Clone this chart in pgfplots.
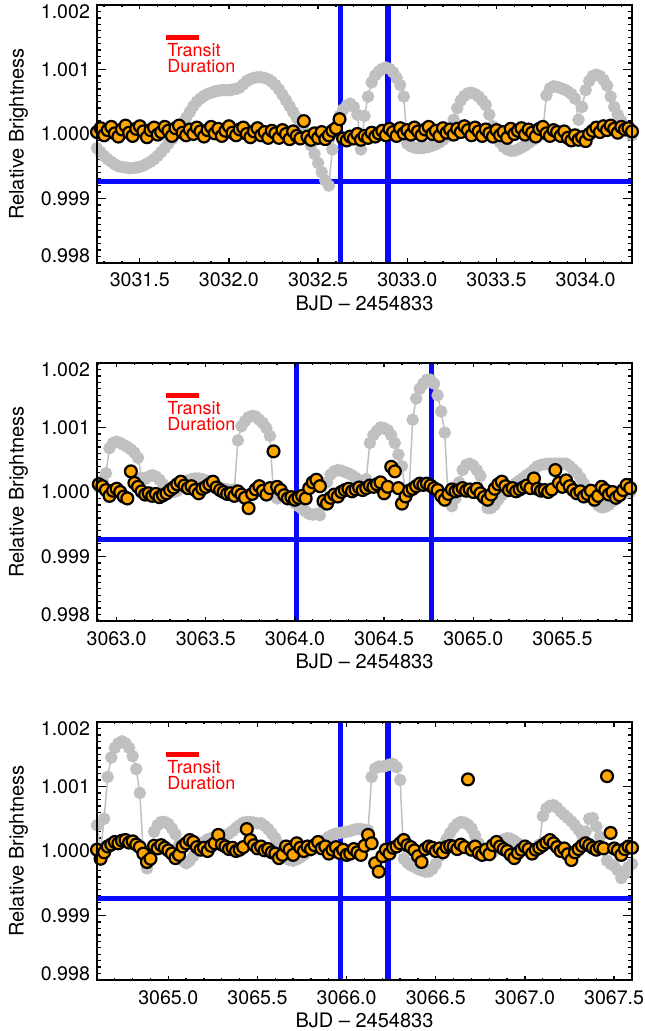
\documentclass[border=0pt]{standalone}
\usepackage{pgfplots}
\pgfplotsset{compat=1.18}
\usepackage{pgfplotstable}
\usepackage{fontspec}
\setmainfont{TeX Gyre Heros}
\definecolor{ptgray}{RGB}{192,192,192}
\definecolor{ptorange}{RGB}{255,165,0}
\definecolor{ptblue}{RGB}{10,10,250}
\definecolor{ptred}{RGB}{255,0,0}

\pgfplotstableread{
x g o
3031.26 0.99978 1.00003
3031.28 0.99972 1.00009
3031.30 0.99966 0.99998
3031.32 0.99961 1.00006
3031.34 0.99957 1.00011
3031.36 0.99953 1.00001
3031.38 0.99950 0.99996
3031.40 0.99949 1.00007
3031.42 0.99948 1.00013
3031.44 0.99947 1.00002
3031.46 0.99947 0.99997
3031.48 0.99948 1.00008
3031.50 0.99949 1.00012
3031.52 0.99951 1.00004
3031.54 0.99954 0.99995
3031.56 0.99957 1.00006
3031.58 0.99961 1.00010
3031.60 0.99966 0.99999
3031.62 0.99972 1.00003
3031.64 0.99978 1.00011
3031.66 0.99985 1.00005
3031.68 0.99992 0.99997
3031.70 0.99999 1.00009
3031.72 1.00007 1.00013
3031.74 1.00016 1.00002
3031.76 1.00025 0.99998
3031.78 1.00034 1.00007
3031.80 1.00043 1.00000
3031.82 1.00050 1.00010
3031.84 1.00055 1.00004
3031.86 1.00059 0.99996
3031.88 1.00062 1.00006
3031.90 1.00064 1.00011
3031.92 1.00066 1.00001
3031.94 1.00067 1.00008
3031.96 1.00068 0.99997
3031.98 1.00068 1.00005
3032.00 1.00068 1.00012
3032.02 1.00069 1.00002
3032.04 1.00070 0.99998
3032.06 1.00072 1.00007
3032.08 1.00077 1.00010
3032.10 1.00082 1.00000
3032.12 1.00085 0.99995
3032.14 1.00087 1.00004
3032.16 1.00088 1.00009
3032.18 1.00088 0.99998
3032.20 1.00087 1.00003
3032.22 1.00085 0.99994
3032.24 1.00081 1.00005
3032.26 1.00076 1.00001
3032.28 1.00069 0.99994
3032.30 1.00061 1.00006
3032.32 1.00052 1.00000
3032.34 1.00043 0.99992
3032.36 1.00034 1.00004
3032.38 1.00025 0.99997
3032.40 1.00015 0.99993
3032.42 1.00005 1.00020
3032.44 0.99994 0.99996
3032.46 0.99982 0.99991
3032.48 0.99969 1.00001
3032.50 0.99955 0.99994
3032.52 0.99941 1.00003
3032.54 0.99928 0.99992
3032.56 0.99920 0.99998
3032.58 0.99976 1.00005
3032.60 1.00008 1.00009
3032.62 1.00028 1.00023
3032.64 1.00038 0.99993
3032.66 1.00044 0.99990
3032.68 1.00047 0.99996
3032.70 1.00042 0.99993
3032.72 1.00030 1.00000
3032.74 0.99976 0.99991
3032.76 1.00028 0.99997
3032.78 1.00058 0.99994
3032.80 1.00080 1.00002
3032.82 1.00091 0.99996
3032.84 1.00097 1.00001
3032.86 1.00101 1.00005
3032.88 1.00103 0.99998
3032.90 1.00101 1.00008
3032.92 1.00096 1.00003
3032.94 1.00087 0.99997
3032.96 1.00076 1.00009
3032.98 1.00058 1.00001
3033.00 0.99985 1.00006
3033.02 0.99981 0.99999
3033.04 0.99979 1.00010
3033.06 0.99978 1.00004
3033.08 0.99978 0.99998
3033.10 0.99979 1.00007
3033.12 0.99980 1.00011
3033.14 0.99982 1.00000
3033.16 0.99984 1.00005
3033.18 0.99987 0.99997
3033.20 0.99991 1.00009
3033.22 0.99996 1.00002
3033.24 1.00004 1.00007
3033.26 1.00022 0.99999
3033.28 1.00040 1.00008
3033.30 1.00052 1.00003
3033.32 1.00059 1.00012
3033.34 1.00063 1.00006
3033.36 1.00064 0.99998
3033.38 1.00062 1.00010
3033.40 1.00058 1.00004
3033.42 1.00052 0.99997
3033.44 1.00045 1.00007
3033.46 1.00030 1.00001
3033.48 1.00012 0.99996
3033.50 0.99997 1.00006
3033.52 0.99987 0.99998
3033.54 0.99980 1.00003
3033.56 0.99976 0.99994
3033.58 0.99974 1.00008
3033.60 0.99974 1.00000
3033.62 0.99976 1.00005
3033.64 0.99979 1.00009
3033.66 0.99982 0.99999
3033.68 0.99986 1.00007
3033.70 0.99990 1.00002
3033.72 0.99994 0.99996
3033.74 0.99998 1.00008
3033.76 1.00004 1.00011
3033.78 1.00060 1.00001
3033.80 1.00071 0.99997
3033.82 1.00074 1.00006
3033.84 1.00073 1.00003
3033.86 1.00071 0.99997
3033.88 1.00069 1.00004
3033.90 1.00066 0.99994
3033.92 1.00062 0.99990
3033.94 1.00055 0.99998
3033.96 1.00022 0.99991
3033.98 1.00042 0.99995
3034.00 1.00068 0.99989
3034.02 1.00082 1.00000
3034.04 1.00090 1.00005
3034.06 1.00092 1.00010
3034.08 1.00090 1.00003
3034.10 1.00084 1.00012
3034.12 1.00075 1.00006
3034.14 1.00058 1.00013
3034.16 1.00042 1.00008
3034.18 1.00030 1.00002
3034.20 1.00020 1.00011
3034.22 1.00012 1.00007
3034.24 1.00004 1.00009
3034.26 0.99998 1.00004
}\tabA

\pgfplotstableread{
x g o
3062.90 1.00008 1.00012
3062.92 1.00018 1.00009
3062.94 1.00029 1.00003
3062.96 1.00068 0.99994
3062.98 1.00076 1.00002
3063.00 1.00078 1.00005
3063.02 1.00076 1.00000
3063.04 1.00073 0.99993
3063.06 1.00070 0.99990
3063.08 1.00066 1.00032
3063.10 1.00061 1.00014
3063.12 1.00053 1.00008
3063.14 1.00022 1.00001
3063.16 1.00020 0.99996
3063.18 1.00024 0.99998
3063.20 1.00026 0.99994
3063.22 1.00024 0.99997
3063.24 1.00019 0.99992
3063.26 1.00012 0.99995
3063.28 1.00006 0.99998
3063.30 1.00002 1.00003
3063.32 1.00000 1.00007
3063.34 1.00002 1.00012
3063.36 1.00008 1.00016
3063.38 1.00014 1.00010
3063.40 1.00018 1.00006
3063.42 1.00020 1.00009
3063.44 1.00021 1.00003
3063.46 1.00021 0.99998
3063.48 1.00020 1.00005
3063.50 1.00018 1.00008
3063.52 1.00016 1.00012
3063.54 1.00013 1.00016
3063.56 1.00010 1.00007
3063.58 1.00007 1.00003
3063.60 1.00005 1.00000
3063.62 1.00004 0.99997
3063.64 1.00003 0.99998
3063.66 1.00004 0.99994
3063.68 1.00080 1.00001
3063.70 1.00102 0.99996
3063.72 1.00110 0.99991
3063.74 1.00116 0.99975
3063.76 1.00118 0.99997
3063.78 1.00117 1.00004
3063.80 1.00112 1.00009
3063.82 1.00107 1.00002
3063.84 1.00099 0.99996
3063.86 1.00087 1.00006
3063.88 0.99995 1.00063
3063.90 0.99990 1.00008
3063.92 0.99992 1.00003
3063.94 0.99995 0.99995
3063.96 0.99993 0.99990
3063.98 0.99988 0.99992
3064.00 0.99983 0.99988
3064.02 0.99978 0.99991
3064.04 0.99974 0.99994
3064.06 0.99970 0.99990
3064.08 0.99966 1.00006
3064.10 0.99965 1.00015
3064.12 0.99966 1.00019
3064.14 0.99964 1.00009
3064.16 0.99980 0.99986
3064.18 1.00015 0.99982
3064.20 1.00027 0.99991
3064.22 1.00032 0.99996
3064.24 1.00034 0.99993
3064.26 1.00033 1.00000
3064.28 1.00031 1.00003
3064.30 1.00029 1.00005
3064.32 1.00026 1.00001
3064.34 1.00022 1.00004
3064.36 1.00018 1.00007
3064.38 1.00016 1.00003
3064.40 1.00020 1.00006
3064.42 1.00076 1.00010
3064.44 1.00088 1.00008
3064.46 1.00095 1.00012
3064.48 1.00100 1.00015
3064.50 1.00099 0.99998
3064.52 1.00096 1.00008
3064.54 1.00088 1.00039
3064.56 1.00076 1.00032
3064.58 1.00058 1.00006
3064.60 1.00040 0.99982
3064.62 0.99998 0.99993
3064.64 1.00000 1.00002
3064.66 1.00112 1.00005
3064.68 1.00145 1.00009
3064.70 1.00160 1.00013
3064.72 1.00168 1.00011
3064.74 1.00174 1.00013
3064.76 1.00174 1.00010
3064.78 1.00168 1.00006
3064.80 1.00150 1.00003
3064.82 1.00125 0.99994
3064.84 1.00092 0.99988
3064.86 0.99985 0.99997
3064.88 0.99978 1.00004
3064.90 0.99990 1.00001
3064.92 1.00015 1.00003
3064.94 1.00034 1.00006
3064.96 1.00042 1.00002
3064.98 1.00044 1.00004
3065.00 1.00041 1.00000
3065.02 1.00034 1.00005
3065.04 1.00025 0.99998
3065.06 0.99990 0.99992
3065.08 0.99975 0.99988
3065.10 0.99975 0.99996
3065.12 0.99980 1.00005
3065.14 0.99988 1.00012
3065.16 0.99995 1.00016
3065.18 1.00000 1.00009
3065.20 1.00005 1.00003
3065.22 1.00010 1.00006
3065.24 1.00014 1.00001
3065.26 1.00018 1.00004
3065.28 1.00022 1.00007
3065.30 1.00026 1.00010
3065.32 1.00030 1.00006
3065.34 1.00035 1.00021
3065.36 1.00040 1.00005
3065.38 1.00042 1.00002
3065.40 1.00043 1.00003
3065.42 1.00044 1.00000
3065.44 1.00044 1.00004
3065.46 1.00044 1.00034
3065.48 1.00044 1.00014
3065.50 1.00044 1.00008
3065.52 1.00044 1.00018
3065.54 1.00040 1.00009
3065.56 1.00035 1.00003
3065.58 1.00030 0.99998
3065.60 1.00022 1.00001
3065.62 1.00013 0.99993
3065.64 1.00004 0.99997
3065.66 0.99994 1.00002
3065.68 0.99985 0.99988
3065.70 0.99979 0.99994
3065.72 0.99976 1.00008
3065.74 0.99977 1.00003
3065.76 0.99980 0.99996
3065.78 0.99985 1.00000
3065.80 0.99990 0.99991
3065.82 0.99994 0.99995
3065.84 0.99997 1.00003
3065.86 0.99999 1.00011
3065.88 1.00000 1.00006
}\tabB

\pgfplotstableread{
x g o
3064.60 1.00040 1.00002
3064.62 1.00000 0.99988
3064.64 1.00050 0.99998
3064.66 1.00115 1.00007
3064.68 1.00145 1.00010
3064.70 1.00160 1.00014
3064.72 1.00167 1.00012
3064.74 1.00170 1.00016
3064.76 1.00167 1.00017
3064.78 1.00160 1.00013
3064.80 1.00147 1.00015
3064.82 1.00127 1.00010
3064.84 1.00090 1.00006
3064.86 0.99995 0.99996
3064.88 0.99973 0.99983
3064.90 0.99985 0.99988
3064.92 1.00030 1.00008
3064.94 1.00040 1.00004
3064.96 1.00045 1.00009
3064.98 1.00045 1.00005
3065.00 1.00042 1.00001
3065.02 1.00035 0.99996
3065.04 1.00026 0.99989
3065.06 1.00010 0.99994
3065.08 0.99985 1.00007
3065.10 0.99981 1.00012
3065.12 0.99985 1.00017
3065.14 0.99992 1.00014
3065.16 1.00000 1.00006
3065.18 1.00008 1.00002
3065.20 1.00014 1.00005
3065.22 1.00018 1.00000
3065.24 1.00020 1.00008
3065.26 1.00021 1.00012
3065.28 1.00022 1.00025
3065.30 1.00022 1.00010
3065.32 1.00024 1.00007
3065.34 1.00027 1.00003
3065.36 1.00031 1.00005
3065.38 1.00036 1.00000
3065.40 1.00040 1.00002
3065.42 1.00044 1.00006
3065.44 1.00045 1.00034
3065.46 1.00045 1.00017
3065.48 1.00044 1.00009
3065.50 1.00043 1.00004
3065.52 1.00043 1.00007
3065.54 1.00039 1.00001
3065.56 1.00034 1.00003
3065.58 1.00027 0.99998
3065.60 1.00020 0.99996
3065.62 1.00010 0.99989
3065.64 0.99998 0.99994
3065.66 0.99990 1.00007
3065.68 0.99986 1.00002
3065.70 0.99985 0.99994
3065.72 0.99987 1.00012
3065.74 0.99990 1.00005
3065.76 0.99994 1.00000
3065.78 0.99998 1.00007
3065.80 1.00002 1.00003
3065.82 1.00006 1.00009
3065.84 1.00010 1.00014
3065.86 1.00014 1.00004
3065.88 1.00018 1.00007
3065.90 1.00022 0.99996
3065.92 1.00025 1.00002
3065.94 1.00027 1.00006
3065.96 1.00028 0.99997
3065.98 1.00029 1.00002
3066.00 1.00030 0.99994
3066.02 1.00031 0.99996
3066.04 1.00033 1.00003
3066.06 1.00034 0.99998
3066.08 1.00034 0.99994
3066.10 1.00033 1.00008
3066.12 1.00032 1.00025
3066.14 1.00115 1.00012
3066.16 1.00128 0.99981
3066.18 1.00131 0.99968
3066.20 1.00131 0.99992
3066.22 1.00132 1.00002
3066.24 1.00134 0.99996
3066.26 1.00135 1.00005
3066.28 1.00130 1.00007
3066.30 1.00110 1.00012
3066.32 0.99988 1.00017
3066.34 0.99982 1.00009
3066.36 0.99978 1.00006
3066.38 0.99975 1.00001
3066.40 0.99972 0.99992
3066.42 0.99970 0.99983
3066.44 0.99968 1.00003
3066.46 0.99968 1.00007
3066.48 0.99972 1.00005
3066.50 0.99980 1.00000
3066.52 0.99992 1.00004
3066.54 1.00005 0.99998
3066.56 1.00018 1.00006
3066.58 1.00028 1.00008
3066.60 1.00036 1.00007
3066.62 1.00042 1.00003
3066.64 1.00045 1.00010
3066.66 1.00044 1.00006
3066.68 1.00041 1.00111
3066.70 1.00035 1.00002
3066.72 1.00024 1.00007
3066.74 1.00012 0.99997
3066.76 1.00004 0.99994
3066.78 0.99998 1.00002
3066.80 0.99996 0.99995
3066.82 0.99998 1.00009
3066.84 1.00004 1.00014
3066.86 1.00012 1.00007
3066.88 1.00018 1.00003
3066.90 1.00020 1.00000
3066.92 1.00019 0.99994
3066.94 1.00016 0.99989
3066.96 1.00012 0.99997
3066.98 1.00008 1.00002
3067.00 1.00005 1.00007
3067.02 1.00003 1.00003
3067.04 1.00002 0.99996
3067.06 1.00004 1.00002
3067.08 1.00010 1.00005
3067.10 1.00054 1.00009
3067.12 1.00066 1.00013
3067.14 1.00070 1.00017
3067.16 1.00071 1.00012
3067.18 1.00067 1.00006
3067.20 1.00061 1.00000
3067.22 1.00056 1.00004
3067.24 1.00051 0.99995
3067.26 1.00046 0.99986
3067.28 1.00040 0.99998
3067.30 1.00033 1.00003
3067.32 1.00025 1.00008
3067.34 1.00030 1.00012
3067.36 1.00050 1.00009
3067.38 1.00051 1.00005
3067.40 1.00038 1.00002
3067.42 1.00022 1.00006
3067.44 1.00005 1.00004
3067.46 0.99985 1.00116
3067.48 0.99980 1.00028
3067.50 0.99977 1.00004
3067.52 0.99970 1.00001
3067.54 0.99958 0.99994
3067.56 0.99965 1.00003
3067.58 0.99975 1.00007
3067.60 0.99980 1.00005
}\tabC

\pgfplotsset{
  common/.style={
    width=267.5pt, height=129pt, scale only axis,
    ymin=0.998, ymax=1.002,
    scaled ticks=false,
    tick align=inside,
    axis line style={line width=1pt},
    every tick/.style={black, line width=0.7pt},
  },
  panel/.style={
    common,
    xtick=\empty,
    ytick={0.998,0.999,1.000,1.001,1.002},
    yticklabels={\smash{0.998},0.999,1.000,1.001,\smash{\raisebox{-\height}{1.002}}},
    minor y tick num=9,
    major tick length=4.5pt, minor tick length=2.25pt,
    yticklabel style={font=\fontsize{9.8}{11}\selectfont},
    ylabel={Relative Brightness},
    ylabel style={at={(axis description cs:-0.1467,0.5)}, anchor=center, font=\fontsize{10}{12}\selectfont},
  },
  xpanel/.style={
    common,
    ytick=\empty,
    xtick distance=0.5,
    minor x tick num=4,
    major tick length=2.25pt, minor tick length=1.1pt,
    xticklabel={\pgfmathprintnumber[fixed,fixed zerofill,precision=1,1000 sep={},assume math mode=true]{\tick}},
    xticklabel style={anchor=base, yshift=-12pt, font=\fontsize{9.8}{11}\selectfont},
    xlabel={BJD \textendash\ 2454833},
    xlabel style={at={(axis description cs:0.5,-0.1822)}, anchor=base, font=\fontsize{10}{12}\selectfont},
  },
  grayser/.style={color=ptgray, line width=0.75pt, mark=*, mark options={solid, fill=ptgray, draw=ptgray, scale=1.25}},
  orangeser/.style={only marks, mark=*, mark options={fill=ptorange, draw=black, line width=1.1pt, scale=1.35}},
  blueline/.style={ptblue, line width=2.6pt, no marks},
  redbar/.style={ptred, line width=2.5pt, no marks},
}
\tikzset{transit/.style={anchor=base west, inner sep=0pt, text=ptred, font=\fontsize{9}{10}\selectfont}}

\begin{document}
\begin{tikzpicture}
% ---------- Panel 1 ----------
\begin{axis}[panel, at={(0pt,0pt)}, anchor=north west, xmin=3031.26, xmax=3034.26]
\addplot[grayser, mark size=2.2pt] table[x=x,y=g]{\tabA};
\addplot[orangeser, mark size=2.2pt] table[x=x,y=o]{\tabA};
\addplot[blueline] coordinates {(3032.627,0.9978) (3032.627,1.0022)};
\addplot[blueline] coordinates {(3032.892,0.9978) (3032.892,1.0022)};
\addplot[blueline] coordinates {(3031.0,0.99926) (3034.5,0.99926)};
\addplot[redbar] coordinates {(3031.6485,1.001491) (3031.832,1.001491)};
\node[transit] at (axis description cs:0.1308,0.7985) {Transit};
\node[transit] at (axis description cs:0.1308,0.7365) {Duration};
\end{axis}
\begin{axis}[xpanel, at={(0pt,0pt)}, anchor=north west, xmin=3031.26, xmax=3034.26]
\end{axis}
% ---------- Panel 2 ----------
\begin{axis}[panel, at={(0pt,-179pt)}, anchor=north west, xmin=3062.89, xmax=3065.89]
\addplot[grayser, mark size=2.2pt] table[x=x,y=g]{\tabB};
\addplot[orangeser, mark size=2.2pt] table[x=x,y=o]{\tabB};
\addplot[blueline] coordinates {(3064.010,0.9978) (3064.010,1.0022)};
\addplot[blueline] coordinates {(3064.767,0.9978) (3064.767,1.0022)};
\addplot[blueline] coordinates {(3062.5,0.99926) (3066.2,0.99926)};
\addplot[redbar] coordinates {(3063.2785,1.001491) (3063.462,1.001491)};
\node[transit] at (axis description cs:0.1308,0.7985) {Transit};
\node[transit] at (axis description cs:0.1308,0.7365) {Duration};
\end{axis}
\begin{axis}[xpanel, at={(0pt,-179pt)}, anchor=north west, xmin=3062.89, xmax=3065.89]
\end{axis}
% ---------- Panel 3 ----------
\begin{axis}[panel, at={(0pt,-358.5pt)}, anchor=north west, xmin=3064.60, xmax=3067.60]
\addplot[grayser, mark size=2.2pt] table[x=x,y=g]{\tabC};
\addplot[orangeser, mark size=2.2pt] table[x=x,y=o]{\tabC};
\addplot[blueline] coordinates {(3065.967,0.9978) (3065.967,1.0022)};
\addplot[blueline] coordinates {(3066.232,0.9978) (3066.232,1.0022)};
\addplot[blueline] coordinates {(3064.2,0.99926) (3068.0,0.99926)};
\addplot[redbar] coordinates {(3064.9885,1.001491) (3065.172,1.001491)};
\node[transit] at (axis description cs:0.1308,0.7985) {Transit};
\node[transit] at (axis description cs:0.1308,0.7365) {Duration};
\end{axis}
\begin{axis}[xpanel, at={(0pt,-358.5pt)}, anchor=north west, xmin=3064.60, xmax=3067.60]
\end{axis}
\pgfresetboundingbox
\useasboundingbox (-48.5pt,2.5pt) rectangle (273.5pt,-513pt);
\end{tikzpicture}
\end{document}
